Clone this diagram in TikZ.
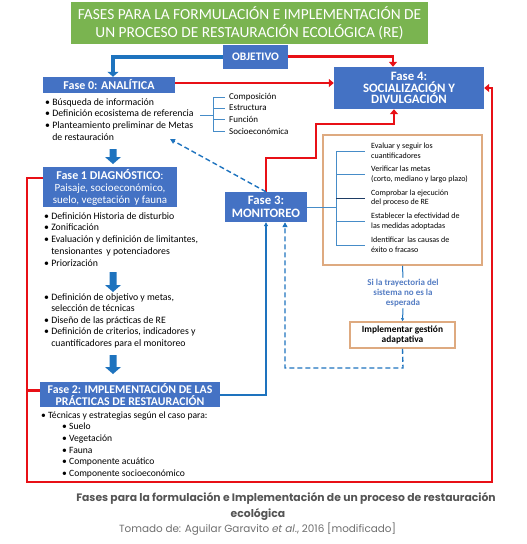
\documentclass[tikz,border=0pt]{standalone}
\usepackage{fontspec}
\setmainfont{Carlito}
\newfontfamily\capfont{Poppins}
\usetikzlibrary{arrows.meta,calc}
\definecolor{tgreen}{RGB}{122,180,80}
\definecolor{fblue}{RGB}{68,114,196}
\definecolor{ablue}{RGB}{30,115,190}
\definecolor{rred}{RGB}{232,16,22}
\definecolor{ltan}{RGB}{222,170,128}
\definecolor{brblue}{RGB}{70,140,200}
\definecolor{brdark}{RGB}{30,60,100}
\definecolor{condblue}{RGB}{85,125,195}
\definecolor{capgray}{RGB}{85,85,85}
\newcommand\blockdown[4]{% name, x, ytop, ytip
  \fill[ablue] (#2-3.5,#3) -- (#2+3.5,#3) -- (#2+3.5,#4-7) -- (#2+8,#4-7) -- (#2,#4) -- (#2-8,#4-7) -- (#2-3.5,#4-7) -- cycle;
  \coordinate (#1) at (#2,#4);}
\begin{document}
\begin{tikzpicture}[x=1pt,y=-1pt,
  phase/.style={fill=fblue,text=white,font=\fontsize{12}{12}\selectfont\bfseries,align=center,inner sep=1pt},
  listtext/.style={anchor=north west,inner sep=0pt,align=left,font=\fontsize{9.8}{11.8}\selectfont},
  smalltext/.style={anchor=west,inner sep=0pt,align=left,font=\fontsize{8}{9.6}\selectfont},
  comptext/.style={anchor=west,inner sep=0pt,font=\fontsize{9}{10}\selectfont},
  redarrow/.style={draw=rred,line width=2.6pt,-{Triangle[length=5pt,width=8pt]}},
  redline/.style={draw=rred,line width=2.6pt},
  thickblue/.style={draw=ablue,line width=4pt,-{Triangle[length=5pt,width=11pt]}},
  thinblue/.style={draw=brblue,line width=1pt},
  dashblue/.style={draw=ablue,line width=1.4pt,dash pattern=on 5pt off 3pt},
]
\useasboundingbox (0,0) rectangle (527,544);
% title
\node[fill=tgreen,text=white,minimum width=357pt,minimum height=42pt,inner sep=0pt,align=center,
  font=\fontsize{15.4}{18}\selectfont] (title) at (249.5,23)
  {FASES PARA LA FORMULACIÓN E IMPLEMENTACIÓN DE\\UN PROCESO DE RESTAURACIÓN ECOLÓGICA (RE)};
% phase boxes
\node[phase,minimum width=65pt,minimum height=24pt,font=\fontsize{11.5}{12}\selectfont\bfseries] (obj) at (255.5,56.5) {OBJETIVO};
\node[phase,minimum width=132pt,minimum height=16pt] (fase0) at (109,85) {Fase 0: ANALÍTICA};
\node[phase,minimum width=150pt,minimum height=42pt,font=\fontsize{12.8}{11.6}\selectfont\bfseries] (fase4) at (409,88) {Fase 4:\\SOCIALIZACIÓN Y\\DIVULGACIÓN};
\node[phase,minimum width=134pt,minimum height=40pt,font=\fontsize{11}{12}\selectfont] (fase1) at (110,187)
  {{\fontsize{12}{12}\selectfont\textbf{Fase 1 DIAGNÓSTICO}:}\\Paisaje, socioeconómico,\\suelo, vegetación\, y fauna};
\node[phase,minimum width=180pt,minimum height=25pt,font=\fontsize{11.8}{11.5}\selectfont\bfseries] (fase2) at (130,394.5) {Fase 2: IMPLEMENTACIÓN DE LAS\\PRÁCTICAS DE RESTAURACIÓN};
\node[phase,minimum width=82pt,minimum height=30pt,font=\fontsize{12.8}{12.5}\selectfont\bfseries] (fase3) at (266,207) {Fase 3:\\MONITOREO};
% monitoring box
\node[draw=ltan,line width=1.5pt,minimum width=159pt,minimum height=130pt,inner sep=0pt] (monbox) at (402.5,200) {};
\node[draw=ltan,line width=1.5pt,minimum width=105pt,minimum height=26pt,inner sep=0pt,align=center,
  font=\fontsize{9.4}{10}\selectfont\bfseries] (impl) at (402.5,335) {Implementar gestión\\adaptativa};
\node[text=condblue,align=center,inner sep=1pt,font=\fontsize{9}{10.2}\selectfont\bfseries] (cond) at (403,293)
  {Si la trayectoria del\\sistema no es la\\esperada};
% lists
\node[listtext] (list0) at (45,98) {• Búsqueda de información\\• Definición ecosistema de referencia\\• Planteamiento preliminar de Metas\\\phantom{• }de restauración};
\node[listtext] (list1) at (44,212) {• Definición Historia de disturbio\\• Zonificación\\• Evaluación y definición de limitantes,\\\phantom{• }tensionantes\, y potenciadores\\• Priorización};
\node[listtext,font=\fontsize{9.8}{11.5}\selectfont] (list2) at (44,293) {• Definición de objetivo y metas,\\\phantom{• }selección de técnicas\\• Diseño de las prácticas de RE\\• Definición de criterios, indicadores y\\\phantom{• }cuantificadores para el monitoreo};
\node[listtext,font=\fontsize{9.6}{11.6}\selectfont] (list3) at (41,411.5) {• Técnicas y estrategias según el caso para:\\
  \hspace*{21pt}• Suelo\\\hspace*{21pt}• Vegetación\\\hspace*{21pt}• Fauna\\\hspace*{21pt}• Componente acuático\\\hspace*{21pt}• Componente socioeconómico};
% components bracket
\draw[thinblue] (200,115) -- (213,115);
\draw[thinblue] (213,97) -- (213,131);
\draw[thinblue] (213,97) -- (225,97);
\draw[thinblue] (213,108) -- (225,108);
\draw[thinblue] (213,119.5) -- (225,119.5);
\draw[thinblue] (213,131) -- (225,131);
\node[comptext] (c1) at (229,97) {Composición};
\node[comptext] (c2) at (229,108) {Estructura};
\node[comptext] (c3) at (229,119.5) {Función};
\node[comptext] (c4) at (229,131) {Socioeconómica};
% monitoring items
\draw[thinblue] (fase3.east) -- (336,207);
\draw[thinblue] (336,151) -- (336,245);
\draw[thinblue] (336,151) -- (365,151);
\draw[thinblue] (336,174.5) -- (365,174.5);
\draw[brdark,line width=1pt] (336,198) -- (365,198);
\draw[thinblue] (336,221.5) -- (365,221.5);
\draw[thinblue] (336,245) -- (365,245);
\node[smalltext] (m1) at (371,151) {Evaluar y seguir los\\cuantificadores};
\node[smalltext] (m2) at (371,174.5) {Verificar las metas\\(corto, mediano y largo plazo)};
\node[smalltext] (m3) at (371,198) {Comprobar la ejecución\\del proceso de RE};
\node[smalltext] (m4) at (371,221.5) {Establecer la efectividad de\\las medidas adoptadas};
\node[smalltext] (m5) at (371,245) {Identificar\, las causas de\\éxito o fracaso};
% block arrows
\blockdown{ba1}{113}{149}{164}
\blockdown{ba2}{113}{272}{292}
\blockdown{ba3}{113}{355}{374}
% connectors
\draw[thickblue] (obj.west) -| ([xshift=4pt]fase0.north);
\draw[redarrow] (obj.east) -| ([xshift=-16pt]fase4.north);
\draw[redarrow] ([yshift=2pt]fase0.east) -- ([yshift=2pt]fase0.east -| fase4.west);
\coordinate (rloop) at (27,178);
\draw[redarrow] (fase1.west |- rloop) -- (rloop) -- (27,482) -- (492,482) |- (fase4.east);
\draw[redline] ([yshift=4pt]fase2.west) -- ([yshift=4pt]fase2.west -| rloop);
\draw[redarrow] (fase3.north) |- (316,158) |- (394,124) -- ([xshift=-15pt]fase4.south);
\coordinate (dtip) at (170,139);
\draw[dashblue,-{Triangle[length=5pt,width=5pt]}] (fase3.north) -- (dtip);
\draw[draw=ablue,line width=1.2pt,-{Triangle[length=4pt,width=4pt]}] ([yshift=-0.5pt]fase2.east) -| (fase3.south);
\draw[dashblue,-{Triangle[length=5pt,width=5pt]}] (impl.south) -- (403,368) -| ([xshift=19pt]fase3.south);
\draw[draw=ablue,line width=1pt] (monbox.south) -- (cond.north);
\draw[draw=ablue,line width=1pt,-{Triangle[length=3pt,width=3pt]}] (cond.south) -- (impl.north);
% caption
\node[text=capgray,font=\capfont\fontsize{10.8}{12}\selectfont\bfseries,inner sep=0pt] (cap1) at (286,498) {Fases para la formulación e Implementación de un proceso de restauración};
\node[text=capgray,font=\capfont\fontsize{10.8}{12}\selectfont\bfseries,inner sep=0pt] (cap2) at (258,514) {ecológica};
\node[text=capgray!85,font=\capfont\fontsize{10.4}{12}\selectfont,inner sep=0pt] (cap3) at (257.5,529) {Tomado de: Aguilar Garavito \textit{et al}., 2016 [modificado]};
\end{tikzpicture}
\end{document}
